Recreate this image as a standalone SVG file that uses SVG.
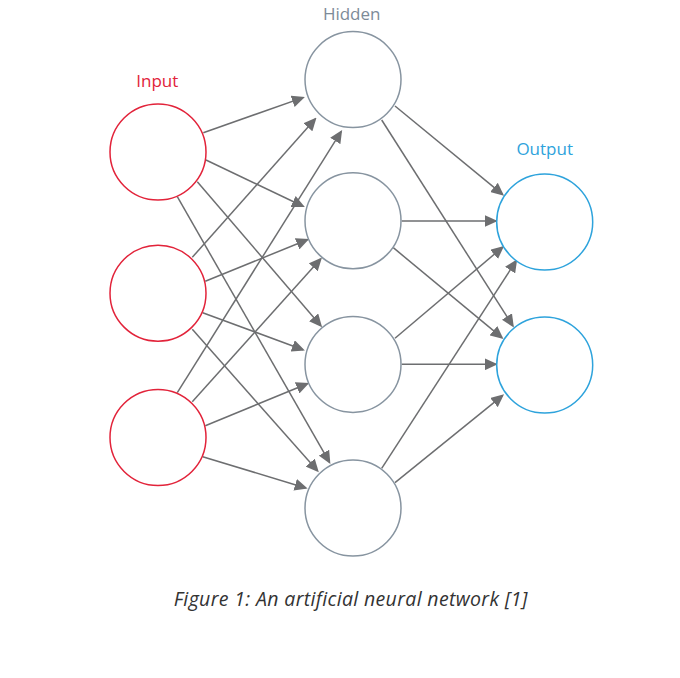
<svg xmlns="http://www.w3.org/2000/svg" width="680" height="678" viewBox="0 0 680 678">
<style>
.in{fill:#fff;stroke:#e2233a;stroke-width:1.5}
.hid{fill:#fff;stroke:#8794a0;stroke-width:1.5}
.out{fill:#fff;stroke:#2ea3dc;stroke-width:1.5}
.lbl{font-family:"Open Sans","Liberation Sans",sans-serif;font-size:17px;text-anchor:middle}
.cap{font-family:"Open Sans","Liberation Sans",sans-serif;font-size:19.5px;letter-spacing:0.35px;font-style:italic;fill:#333;text-anchor:middle}
#edges line{stroke:#6d6e70;stroke-width:1.5;marker-end:url(#ah)}
</style>
<defs>
<marker id="ah" markerUnits="userSpaceOnUse" markerWidth="13" markerHeight="12" refX="11" refY="6" orient="auto" viewBox="0 0 13 12">
<path d="M0,0 L13,6 L0,12 z" fill="#6d6e70"/>
</marker>
</defs>
<rect width="680" height="678" fill="#fff"/>
<g id="edges">
<line x1="203.3" y1="132.7" x2="303" y2="97.6"/>
<line x1="206" y1="160" x2="303" y2="206.2"/>
<line x1="197.3" y1="181.7" x2="320.8" y2="325.7"/>
<line x1="177.3" y1="196.7" x2="329.4" y2="462.2"/>
<line x1="192.3" y1="257.3" x2="315.2" y2="119.1"/>
<line x1="205.3" y1="281.3" x2="307.3" y2="239.7"/>
<line x1="202.7" y1="312.7" x2="303" y2="349.7"/>
<line x1="192.3" y1="329.3" x2="317.5" y2="470.8"/>
<line x1="177.3" y1="392.7" x2="341.1" y2="131.6"/>
<line x1="192.3" y1="401.7" x2="320.6" y2="259.1"/>
<line x1="205.3" y1="425.7" x2="307.3" y2="383.7"/>
<line x1="202.7" y1="456.7" x2="305.7" y2="488"/>
<line x1="395" y1="106" x2="502.5" y2="194.4"/>
<line x1="381.7" y1="120" x2="512.8" y2="325.8"/>
<line x1="401.7" y1="221" x2="495.7" y2="221"/>
<line x1="393.3" y1="247.7" x2="501.9" y2="337.7"/>
<line x1="395" y1="338.3" x2="502.5" y2="247.3"/>
<line x1="401.7" y1="364.3" x2="495.7" y2="364.3"/>
<line x1="381.7" y1="468.3" x2="516.1" y2="260.9"/>
<line x1="395" y1="482.7" x2="502.5" y2="395.6"/>
</g>
<g id="input1"><circle class="in" cx="158" cy="152" r="48"/></g>
<g id="input2"><circle class="in" cx="158" cy="293.2" r="48"/></g>
<g id="input3"><circle class="in" cx="158" cy="437.5" r="48"/></g>
<g id="hidden1"><circle class="hid" cx="353" cy="79.6" r="48"/></g>
<g id="hidden2"><circle class="hid" cx="353" cy="220.7" r="48"/></g>
<g id="hidden3"><circle class="hid" cx="353" cy="364.4" r="48"/></g>
<g id="hidden4"><circle class="hid" cx="353" cy="508" r="48"/></g>
<g id="output1"><circle class="out" cx="544.7" cy="222" r="48"/></g>
<g id="output2"><circle class="out" cx="544.7" cy="365" r="48"/></g>
<g id="labels">
<text class="lbl" x="157.3" y="86.5" fill="#e2233a">Input</text>
<text class="lbl" x="351.7" y="20" fill="#7d8b98">Hidden</text>
<text class="lbl" x="544.7" y="155" fill="#2ea3dc">Output</text>
<text class="cap" x="350.8" y="605.7">Figure 1: An artificial neural network [1]</text>
</g>
</svg>
